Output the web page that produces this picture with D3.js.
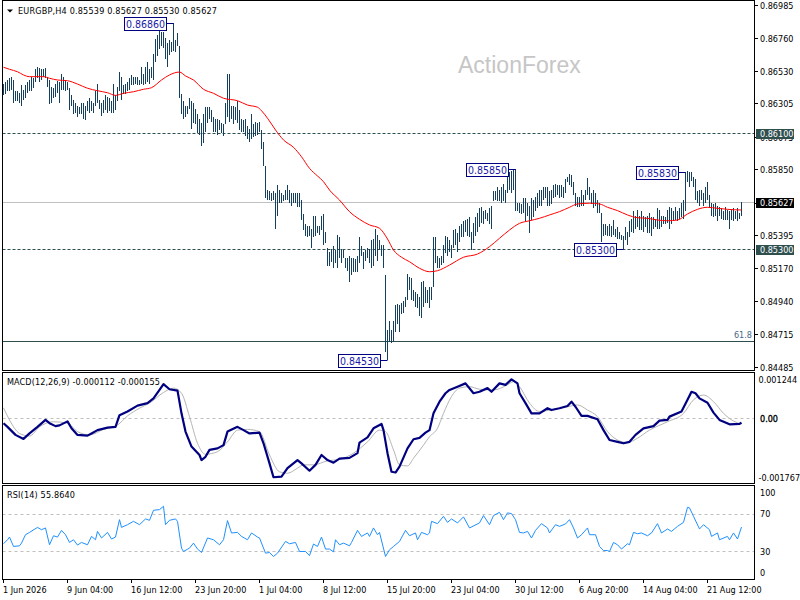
<!DOCTYPE html>
<html lang="en">
<head>
<meta charset="UTF-8">
<title>EURGBP H4</title>
<script src="https://d3js.org/d3.v7.min.js"></script>
<style>
  body { margin: 0; background: #fff; }
  svg text { font-family: "DejaVu Sans Condensed", "DejaVu Sans", sans-serif; font-stretch: condensed; font-size: 9px; }
</style>
</head>
<body>
<svg id="chart" width="800" height="600"></svg>
<script>
// ---- data ----
const highs = [
  .8644,.8645,.8647,.8648,.8649,.8647,.8639,.8639,.8638,.8643,
  .8640,.8643,.8645,.8647,.8649,.8648,.8654,.8656,.8655,.8654,
  .8654,.8655,.8649,.8647,.8642,.8641,.8644,.8646,.8645,.8651,
  .8649,.8647,.8645,.8641,.8636,.8633,.8631,.8629,.8628,.8631,
  .8631,.8629,.8632,.8634,.8632,.8631,.8639,.8644,.8633,.8631,
  .8633,.8636,.8635,.8634,.8632,.8644,.8636,.8642,.8652,.8649,
  .8643,.8644,.8645,.8648,.8650,.8649,.8649,.8649,.8647,.8656,
  .8651,.8656,.8659,.8654,.8656,.8665,.8675,.8678,.8681,.8680,
  .8680,.8676,.8672,.8674,.8673,.8686,.8674,.8679,.8670,.8637,
  .8632,.8629,.8629,.8634,.8632,.8631,.8627,.8623,.8620,.8617,
  .8623,.8628,.8628,.8628,.8626,.8621,.8620,.8620,.8619,.8617,
  .8616,.8631,.8651,.8651,.8629,.8629,.8628,.8632,.8626,.8620,
  .8619,.8620,.8615,.8613,.8623,.8616,.8618,.8617,.8618,.8612,
  .8604,.8587,.8571,.8570,.8569,.8570,.8569,.8574,.8571,.8569,
  .8567,.8571,.8574,.8571,.8569,.8569,.8569,.8569,.8569,.8564,
  .8554,.8547,.8546,.8546,.8544,.8553,.8553,.8546,.8546,.8553,
  .8554,.8542,.8531,.8528,.8530,.8532,.8529,.8540,.8538,.8530,
  .8529,.8524,.8524,.8525,.8524,.8524,.8523,.8525,.8538,.8532,
  .8528,.8529,.8531,.8530,.8536,.8537,.8544,.8540,.8536,.8533,
  .8533,.8512,.8474,.8480,.8474,.8480,.8491,.8492,.8491,.8493,
  .8494,.8497,.8513,.8511,.8510,.8502,.8500,.8499,.8497,.8507,
  .8508,.8504,.8502,.8504,.8504,.8538,.8538,.8525,.8524,.8525,
  .8533,.8539,.8538,.8536,.8533,.8543,.8544,.8541,.8546,.8547,
  .8549,.8550,.8551,.8552,.8542,.8548,.8552,.8555,.8558,.8559,
  .8556,.8557,.8555,.8558,.8560,.8570,.8570,.8573,.8571,.8573,
  .8575,.8571,.8582,.8583,.8584,.8585,.8585,.8562,.8562,.8561,
  .8565,.8565,.8562,.8560,.8565,.8564,.8566,.8569,.8571,.8571,
  .8573,.8573,.8573,.8570,.8571,.8574,.8575,.8574,.8574,.8574,
  .8573,.8578,.8580,.8582,.8581,.8576,.8569,.8566,.8566,.8571,
  .8567,.8571,.8579,.8573,.8569,.8571,.8569,.8564,.8562,.8555,
  .8547,.8547,.8546,.8547,.8546,.8550,.8544,.8545,.8542,.8540,
  .8539,.8545,.8542,.8549,.8551,.8556,.8553,.8557,.8553,.8556,
  .8553,.8552,.8553,.8555,.8552,.8552,.8551,.8558,.8557,.8553,
  .8553,.8552,.8557,.8559,.8558,.8556,.8559,.8556,.8558,.8562,
  .8564,.8583,.8584,.8583,.8583,.8580,.8578,.8570,.8571,.8571,
  .8569,.8573,.8576,.8567,.8562,.8561,.8562,.8560,.8559,.8558,
  .8556,.8559,.8557,.8556,.8557,.8558,.8556,.8558,.8555,.85627
];
const lows = [
  .8636,.8637,.8639,.8639,.8640,.8631,.8632,.8632,.8631,.8629,
  .8633,.8634,.8638,.8639,.8639,.8641,.8645,.8648,.8645,.8647,
  .8649,.8648,.8642,.8630,.8631,.8634,.8635,.8638,.8631,.8640,
  .8640,.8639,.8640,.8626,.8629,.8623,.8624,.8621,.8623,.8623,
  .8620,.8619,.8625,.8624,.8625,.8624,.8629,.8631,.8627,.8622,
  .8624,.8626,.8624,.8625,.8624,.8624,.8626,.8632,.8639,.8633,
  .8637,.8637,.8639,.8640,.8643,.8643,.8644,.8643,.8643,.8644,
  .8643,.8644,.8645,.8644,.8648,.8647,.8659,.8663,.8668,.8670,
  .8669,.8661,.8656,.8664,.8666,.8667,.8666,.8670,.8634,.8623,
  .8620,.8621,.8623,.8627,.8613,.8617,.8616,.8610,.8609,.8601,
  .8603,.8611,.8617,.8620,.8618,.8611,.8611,.8609,.8612,.8610,
  .8608,.8616,.8621,.8618,.8620,.8616,.8619,.8617,.8612,.8611,
  .8611,.8608,.8606,.8604,.8606,.8607,.8608,.8609,.8611,.8599,
  .8587,.8565,.8564,.8564,.8563,.8564,.8544,.8553,.8562,.8562,
  .8563,.8564,.8564,.8562,.8560,.8562,.8562,.8559,.8559,.8550,
  .8543,.8539,.8538,.8539,.8531,.8538,.8539,.8541,.8540,.8543,
  .8533,.8534,.8518,.8518,.8521,.8517,.8520,.8517,.8524,.8520,
  .8524,.8517,.8515,.8507,.8512,.8514,.8514,.8514,.8520,.8525,
  .8516,.8522,.8524,.8520,.8517,.8518,.8525,.8522,.8529,.8525,
  .8517,.8459,.8453,.8466,.8465,.8466,.8473,.8478,.8473,.8485,
  .8486,.8490,.8495,.8502,.8495,.8494,.8490,.8489,.8484,.8482,
  .8490,.8493,.8493,.8489,.8495,.8504,.8520,.8517,.8517,.8519,
  .8520,.8527,.8525,.8528,.8524,.8531,.8533,.8528,.8535,.8538,
  .8538,.8542,.8539,.8538,.8529,.8534,.8539,.8542,.8545,.8548,
  .8547,.8551,.8549,.8547,.8544,.8563,.8564,.8563,.8563,.8562,
  .8563,.8562,.8569,.8571,.8569,.8571,.8556,.8556,.8555,.8554,
  .8555,.8549,.8553,.8541,.8550,.8552,.8556,.8558,.8560,.8560,
  .8564,.8565,.8560,.8560,.8561,.8565,.8566,.8567,.8565,.8566,
  .8565,.8569,.8576,.8574,.8573,.8567,.8560,.8559,.8559,.8560,
  .8560,.8564,.8567,.8564,.8561,.8558,.8560,.8555,.8555,.8535,
  .8539,.8540,.8539,.8539,.8538,.8540,.8538,.8537,.8537,.8536,
  .8530,.8536,.8533,.8538,.8542,.8541,.8544,.8545,.8543,.8543,
  .8542,.8545,.8541,.8541,.8539,.8544,.8545,.8544,.8544,.8545,
  .8547,.8547,.8548,.8544,.8547,.8549,.8550,.8549,.8551,.8552,
  .8551,.8556,.8576,.8573,.8577,.8573,.8564,.8562,.8560,.8564,
  .8560,.8562,.8564,.8558,.8553,.8552,.8553,.8549,.8553,.8551,
  .8550,.8550,.8550,.8544,.8550,.8549,.8551,.8549,.8551,.8553
];

// red moving average, read at sample bars
const maIdx = [0,3,7,10,13,20,23,27,32,37,42,47,52,56,60,65,70,74,79,83,88,91,95,100,105,110,117,122,127,129,
  132,136,140,145,149,153,157,160,163,168,173,178,183,188,192,195,199,203,208,213,217,223,230,237,243,248,253,258,263,268,
  273,278,283,287,293,298,302,307,312,317,322,327,332,337,342,347,352,357,362,369];
const maVal = [0.86555,0.86541,0.86524,0.86502,0.86490,0.86490,0.86479,0.86467,0.86462,0.86439,0.86410,0.86393,0.86379,0.86361,0.86375,
  0.86386,0.86403,0.86414,0.86467,0.86502,0.86522,0.86495,0.86467,0.86403,0.86375,0.86341,0.86324,0.86294,0.86279,0.86255,
  0.86203,0.86122,0.86053,0.86002,0.85937,0.85857,0.85804,0.85765,0.85707,0.85638,0.85558,0.85505,0.85466,0.85443,0.85369,
  0.85293,0.85243,0.85212,0.85167,0.85143,0.85150,0.85189,0.85243,0.85265,0.85316,0.85374,0.85431,0.85477,0.85495,0.85512,
  0.85535,0.85558,0.85588,0.85611,0.85616,0.85611,0.85588,0.85565,0.85535,0.85516,0.85512,0.85500,0.85495,0.85500,0.85542,
  0.85574,0.85588,0.85581,0.85574,0.85569];

// MACD main and signal
const macdIdx = [0,2,6,10,13,17,21,23,26,28,32,34,37,42,44,47,52,56,58,62,67,72,75,78,80,83,87,89,91,94,
  98,99,101,103,107,110,112,117,120,123,128,130,133,135,139,142,147,149,153,156,159,162,165,168,173,177,178,182,185,189,
  190,192,194,196,198,202,205,208,211,213,215,218,221,223,227,231,235,238,242,244,248,251,254,257,258,261,264,268,272,274,
  278,282,284,286,289,292,297,300,303,307,310,313,316,320,325,328,332,333,339,342,344,346,348,352,355,358,363,368,369];
const macdVal = [-0.00013,-0.00023,-0.00045,-0.00056,-0.00041,-0.00023,-0.00004,-0.00013,-0.00021,-0.00019,
  -0.00008,-0.00027,-0.00045,-0.00047,-0.00041,-0.00032,-0.00025,-0.00023,0.00009,0.00019,
  0.00035,0.00042,0.00055,0.00078,0.00094,0.00080,0.00076,0.00014,-0.00036,-0.00077,
  -0.00100,-0.00114,-0.00105,-0.00086,-0.00082,-0.00073,-0.00036,-0.00023,-0.00032,-0.00041,
  -0.00039,-0.00068,-0.00123,-0.00161,-0.00159,-0.00136,-0.00114,-0.00123,-0.00143,-0.00127,
  -0.00100,-0.00114,-0.00121,-0.00110,-0.00108,-0.00095,-0.00066,-0.00052,-0.00027,-0.00015,
  -0.00032,-0.00095,-0.00146,-0.00148,-0.00132,-0.00082,-0.00057,-0.00053,-0.00039,-0.00032,
  0.00014,0.00046,0.00069,0.00078,0.00087,0.00096,0.00069,0.00073,0.00083,0.00073,
  0.00096,0.00092,0.00107,0.00096,0.00069,0.00042,0.00014,0.00014,0.00028,0.00023,
  0.00028,0.00034,0.00046,0.00032,0.00007,0.00007,-0.00002,-0.00032,-0.00059,-0.00064,
  -0.00068,-0.00064,-0.00045,-0.00027,-0.00021,-0.00006,-0.00004,0.00005,0.00019,0.00051,
  0.00073,0.00069,0.00055,0.00043,0.00016,-0.00004,-0.00016,-0.00015,-0.000112];
const sigIdx = [0,3,8,13,18,25,32,37,43,50,57,62,68,73,80,85,89,93,97,101,107,112,117,122,128,133,138,142,147,150,
  155,162,168,175,182,188,191,195,198,202,205,210,213,217,220,224,228,233,238,245,252,255,258,263,268,275,282,287,292,297,
  302,307,312,317,323,332,340,345,350,355,360,365,369];
const sigVal = [0.00029,-0.00004,-0.00041,-0.00048,-0.00023,-0.00009,-0.00013,-0.00036,-0.00045,-0.00030,
  -0.00018,0.00007,0.00028,0.00042,0.00071,0.00083,0.00069,0.00005,-0.00068,-0.00098,
  -0.00091,-0.00064,-0.00032,-0.00030,-0.00036,-0.00100,-0.00146,-0.00150,-0.00136,-0.00127,
  -0.00127,-0.00116,-0.00112,-0.00095,-0.00064,-0.00032,-0.00036,-0.00086,-0.00127,-0.00130,
  -0.00109,-0.00073,-0.00050,-0.00027,0.00014,0.00060,0.00083,0.00087,0.00080,0.00078,
  0.00092,0.00101,0.00087,0.00042,0.00019,0.00025,0.00032,0.00037,0.00023,0.00005,
  -0.00036,-0.00059,-0.00066,-0.00054,-0.00032,-0.00009,0.00014,0.00051,0.00064,0.00046,
  0.00014,-0.00007,-0.000155];

// RSI(14)
const rsiIdx = [0,2,3,5,8,9,11,13,17,19,21,23,25,27,29,31,33,35,37,39,42,44,46,47,49,52,54,56,58,59,
  62,65,68,71,73,75,78,80,81,83,86,87,89,90,93,95,97,99,102,105,108,110,112,114,117,119,122,124,127,128,
  131,133,135,137,141,143,146,148,151,153,155,157,159,161,163,165,166,168,170,173,174,177,179,182,183,185,187,188,191,193,
  195,198,201,203,206,207,209,212,213,214,217,220,222,224,227,230,233,238,240,243,245,248,250,252,254,256,258,260,262,264,
  266,269,272,273,276,278,281,283,285,287,289,292,293,296,298,300,302,303,305,307,309,312,313,315,317,319,322,324,327,329,
  332,334,337,340,342,343,345,348,350,353,354,357,358,362,363,365,367,369];
const rsiVal = [37.9,42.2,45.1,35.0,35.7,38.6,47.6,50.1,55.5,53.0,
  54.9,36.8,46.5,45.1,52.3,47.6,39.3,42.2,36.5,39.3,
  36.8,45.8,42.2,51.2,44.1,50.1,43.0,45.1,63.8,55.5,
  58.4,62.0,58.4,64.6,63.1,73.9,74.6,78.2,58.4,63.1,
  64.6,62.0,33.2,29.6,33.2,38.6,32.2,28.5,44.1,42.2,
  36.8,42.2,62.8,49.5,50.1,45.8,42.2,49.5,45.1,44.1,
  27.8,28.5,24.2,27.8,40.4,37.9,39.3,29.6,29.6,25.2,
  37.6,35.0,45.1,32.2,32.2,29.2,42.2,36.8,38.6,35.7,
  39.3,52.3,45.8,49.5,45.8,54.9,47.6,50.1,24.2,31.4,
  35.0,40.4,52.3,46.5,49.5,42.2,50.1,47.6,49.5,62.0,
  59.5,67.4,60.9,64.6,60.3,66.8,54.9,60.3,68.2,58.4,
  68.2,71.7,63.8,71.1,70.3,63.8,50.1,49.5,51.2,44.1,
  52.3,59.5,54.9,49.5,58.4,56.6,59.2,63.8,54.9,44.1,
  47.6,54.9,47.6,47.6,35.0,30.6,30.6,29.6,39.3,36.8,
  32.2,37.9,36.8,50.1,48.7,49.5,46.5,49.5,59.5,49.5,
  53.8,51.2,56.6,60.9,77.1,76.5,67.4,53.8,58.4,53.0,
  45.8,49.5,42.2,45.8,42.2,49.5,43.0,55.864];

const priceTicks = [0.86985,0.86760,0.86530,0.86305,0.86075,0.85850,0.85620,0.85395,0.85170,0.84940,0.84715,0.84485];
const levelLines = [0.86100, 0.85300];
const lastPrice = 0.85627;
const fibPrice = 0.84665;
const annPrice = [0.86860, 0.85850, 0.85830, 0.85300, 0.84530];
const annBar = [85, 256, 341, 310, 192];
const timeIdx = [0,32,64,96,128,160,192,224,256,288,320,352];
const timeLabels = ["1 Jun 2026","9 Jun 04:00","16 Jun 12:00","23 Jun 20:00","1 Jul 04:00","8 Jul 12:00",
  "15 Jul 20:00","23 Jul 04:00","30 Jul 12:00","6 Aug 20:00","14 Aug 04:00","21 Aug 12:00"];
const macdTicks = [0.001244, 0, -0.001767];
const macdTickLabels = ["0.001244", "0.00", "-0.001767"];
const rsiTicks = [100, 70, 30, 0];

// ---- layout ----
const L = 2.5, R = 754.5;
const main = {top: 0.5, bottom: 370.5};
const pMacd = {top: 372.5, bottom: 483.5};
const pRsi = {top: 485.5, bottom: 579.5};

const svg = d3.select("#chart");

const x = d3.scaleLinear().domain([0, highs.length - 1]).range([3, 741]);
const yP = d3.scaleLinear().domain([0.84485, 0.86985]).range([367, 5]);
const yM = d3.scaleLinear().domain([-0.001767, 0.001244]).range([483, 373]);
const yR = d3.scaleLinear().domain([0, 100]).range([579, 486]);

const barColor = "#153f5e";
const slate = "#2f4f4f";

// watermark
svg.append("text").attr("x", 458).attr("y", 73)
  .style("font-family", "'Liberation Sans', Arial, sans-serif").style("font-stretch", "normal")
  .style("font-size", "23px").attr("fill", "#c6c6c6").text("ActionForex");

// horizontal levels
svg.append("line").attr("x1", L).attr("x2", R)
  .attr("y1", Math.round(yP(lastPrice)) + 0.5).attr("y2", Math.round(yP(lastPrice)) + 0.5)
  .attr("stroke", "#c0c0c0");
svg.selectAll(".lvl").data(levelLines).enter().append("line")
  .attr("x1", L).attr("x2", R)
  .attr("y1", d => Math.round(yP(d)) + 0.5).attr("y2", d => Math.round(yP(d)) + 0.5)
  .attr("stroke", slate).attr("stroke-dasharray", "3,2");
svg.append("line").attr("x1", L).attr("x2", R)
  .attr("y1", Math.round(yP(fibPrice)) + 0.5).attr("y2", Math.round(yP(fibPrice)) + 0.5)
  .attr("stroke", slate);
svg.append("text").attr("x", 752).attr("y", yP(fibPrice) - 2.5).attr("text-anchor", "end")
  .attr("fill", "#4a6785").text("61.8");

// price bars
svg.append("g").attr("shape-rendering", "crispEdges")
  .selectAll("line").data(highs).enter().append("line")
  .attr("x1", (d, i) => x(i) + 0.5).attr("x2", (d, i) => x(i) + 0.5)
  .attr("y1", d => Math.round(yP(d)))
  .attr("y2", (d, i) => Math.max(Math.round(yP(lows[i])), Math.round(yP(d)) + 1))
  .attr("stroke", barColor);

// moving average
const maLine = d3.line().x((d, i) => x(maIdx[i]) + 0.5).y(d => yP(d)).curve(d3.curveMonotoneX);
svg.append("path").attr("d", maLine(maVal)).attr("fill", "none").attr("stroke", "#ff0000").attr("stroke-width", 1);

// annotation boxes
const annW = 42, annH = 13;
annPrice.forEach((p, k) => {
  const bx = x(annBar[k]) + 0.5, by = Math.round(yP(p)) + 0.5;
  const right = Math.round(bx - 8) + 0.5;
  svg.append("line").attr("x1", right).attr("x2", bx).attr("y1", by).attr("y2", by)
    .attr("stroke", "#000080");
  svg.append("rect").attr("x", right - annW).attr("y", by - annH / 2).attr("width", annW).attr("height", annH)
    .attr("fill", "#fff").attr("stroke", "#000080").attr("shape-rendering", "crispEdges");
  svg.append("text").attr("x", right - annW / 2).attr("y", by + 4).attr("text-anchor", "middle")
    .style("font-size", "10.5px").attr("fill", "#1a1aa8").text(p.toFixed(5));
});

// MACD panel
svg.append("line").attr("x1", L).attr("x2", R).attr("y1", Math.round(yM(0)) + 0.5).attr("y2", Math.round(yM(0)) + 0.5)
  .attr("stroke", "#c0c0c0").attr("stroke-dasharray", "3,3");
const sigLine = d3.line().x((d, i) => x(sigIdx[i]) + 0.5).y(d => yM(d)).curve(d3.curveMonotoneX);
svg.append("path").attr("d", sigLine(sigVal)).attr("fill", "none").attr("stroke", "#b4b4b4").attr("stroke-width", 1);
const macdLine = d3.line().x((d, i) => x(macdIdx[i]) + 0.5).y(d => yM(d));
svg.append("path").attr("d", macdLine(macdVal)).attr("fill", "none").attr("stroke", "#000080")
  .attr("stroke-width", 2.2).attr("stroke-linejoin", "round");

// RSI panel
svg.selectAll(".rl").data([70, 30]).enter().append("line")
  .attr("x1", L).attr("x2", R).attr("y1", d => Math.round(yR(d)) + 0.5).attr("y2", d => Math.round(yR(d)) + 0.5)
  .attr("stroke", "#c0c0c0").attr("stroke-dasharray", "3,3");
const rsiLine = d3.line().x((d, i) => x(rsiIdx[i]) + 0.5).y(d => yR(d));
svg.append("path").attr("d", rsiLine(rsiVal)).attr("fill", "none").attr("stroke", "#1e90ff").attr("stroke-width", 1);

// panel frames
[main, pMacd, pRsi].forEach(p => {
  svg.append("rect").attr("x", L).attr("y", p.top).attr("width", R - L).attr("height", p.bottom - p.top)
    .attr("fill", "none").attr("stroke", "#000").attr("shape-rendering", "crispEdges");
});

// right price axis
const axR = svg.append("g").attr("shape-rendering", "crispEdges");
priceTicks.forEach(v => {
  const ty = Math.round(yP(v)) + 0.5;
  axR.append("line").attr("x1", R).attr("x2", R + 3).attr("y1", ty).attr("y2", ty).attr("stroke", "#000");
  svg.append("text").attr("x", 760).attr("y", ty + 3.5).attr("fill", "#000").text(v.toFixed(5));
});
const boxes = levelLines.map(v => ({v: v, fill: slate})).concat([{v: lastPrice, fill: "#000"}]);
boxes.forEach(b => {
  const ty = Math.round(yP(b.v)) + 0.5;
  svg.append("rect").attr("x", 755.5).attr("y", ty - 5).attr("width", 38).attr("height", 10)
    .attr("fill", b.fill).attr("shape-rendering", "crispEdges");
  svg.append("text").attr("x", 760).attr("y", ty + 3.5).attr("fill", "#fff").text(b.v.toFixed(5));
});

// MACD axis labels (clamped inside the panel)
macdTicks.forEach((v, k) => {
  const ty = Math.max(pMacd.top + 6.5, Math.min(pMacd.bottom - 6.5, yM(v)));
  svg.append("text").attr("x", k === 1 ? 760 : 758.5).attr("y", ty + 3.5).attr("fill", "#000")
    .attr("stroke", k === 1 ? "#000" : "none").attr("stroke-width", 0.3).text(macdTickLabels[k]);
});
rsiTicks.forEach(v => {
  const ty = Math.max(pRsi.top + 7, Math.min(pRsi.bottom - 7, yR(v)));
  svg.append("text").attr("x", 760).attr("y", ty + 3.5).attr("fill", "#000").text(v);
});

// time axis
timeIdx.forEach((i, k) => {
  svg.append("line").attr("x1", x(i) + 0.5).attr("x2", x(i) + 0.5).attr("y1", pRsi.bottom).attr("y2", pRsi.bottom + 3.5)
    .attr("stroke", "#000").attr("shape-rendering", "crispEdges");
  svg.append("text").attr("x", x(i)).attr("y", 592.5).attr("fill", "#000").text(timeLabels[k]);
});

// panel captions
svg.append("path").attr("d", "M7,9.5 L13,9.5 L10,12.5 Z").attr("fill", "#000");
svg.append("text").attr("x", 18).attr("y", 14).attr("fill", "#000")
  .attr("textLength", 199).attr("lengthAdjust", "spacing")
  .text("EURGBP,H4  " + [0.85539, 0.85627, 0.85530, lastPrice].map(v => v.toFixed(5)).join(" "));
svg.append("text").attr("x", 7).attr("y", 385).attr("fill", "#000")
  .attr("textLength", 153).attr("lengthAdjust", "spacing")
  .text("MACD(12,26,9) " + macdVal[macdVal.length - 1].toFixed(6) + " " + sigVal[sigVal.length - 1].toFixed(6));
svg.append("text").attr("x", 7).attr("y", 498).attr("fill", "#000")
  .attr("textLength", 68).attr("lengthAdjust", "spacing")
  .text("RSI(14) " + rsiVal[rsiVal.length - 1].toFixed(4));
</script>
</body>
</html>
